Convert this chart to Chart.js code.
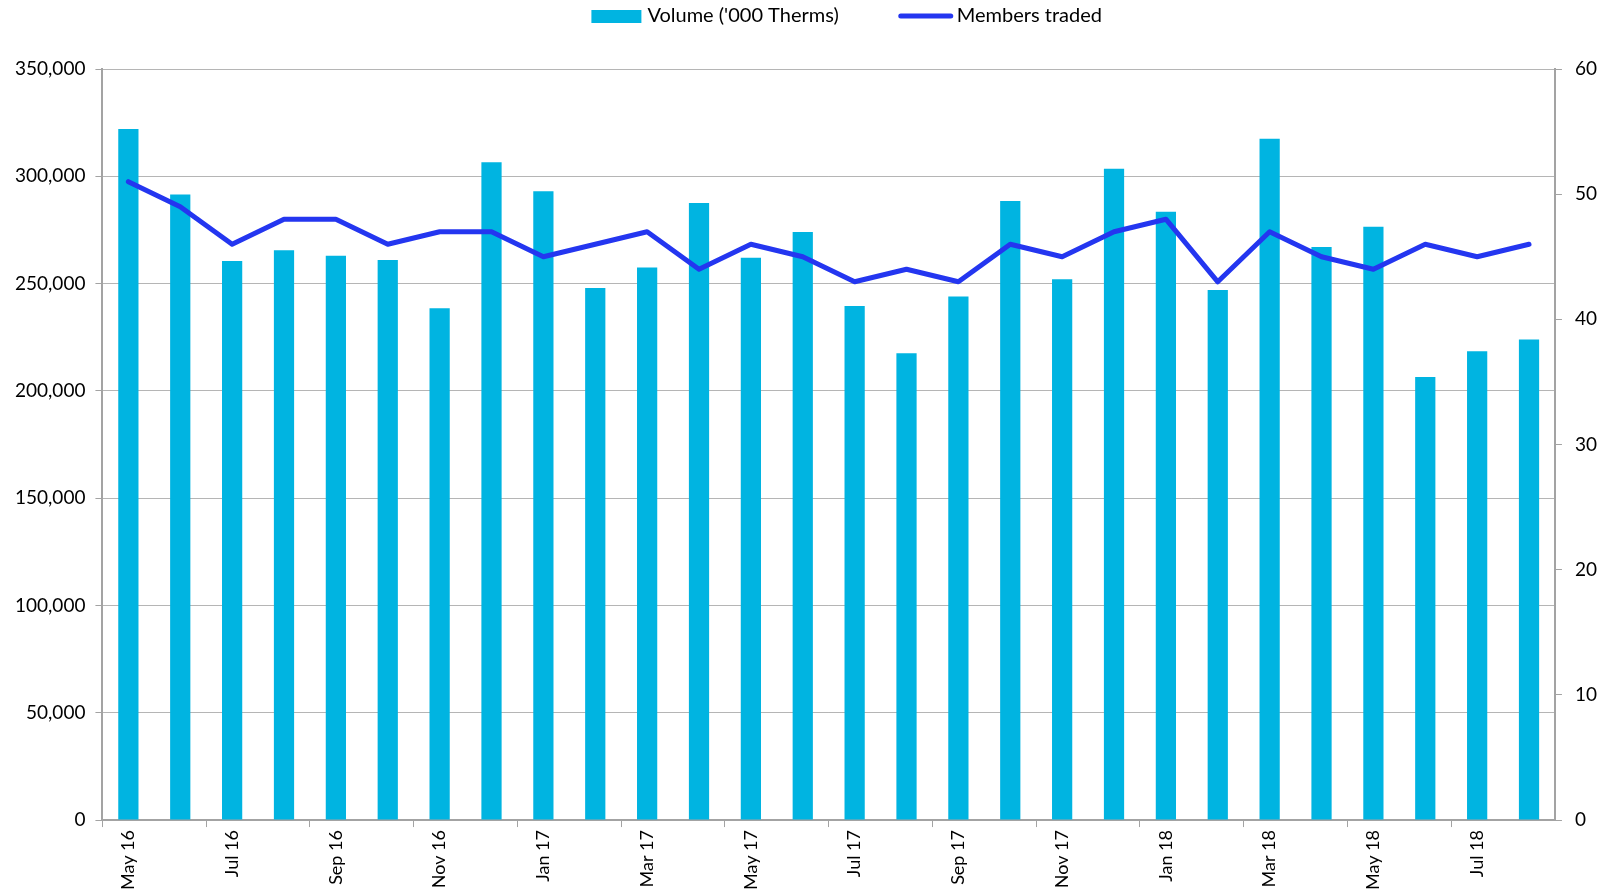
<!DOCTYPE html>
<html>
<head>
<meta charset="utf-8">
<script src="https://cdn.jsdelivr.net/npm/chart.js@4"></script>
<style>
  html, body { margin: 0; padding: 0; background: #fff; }
  #wrap { width: 1610px; height: 889px; }
</style>
</head>
<body>
<div id="wrap"><canvas id="chart"></canvas></div>
<script>
const months = ['May 16','Jun 16','Jul 16','Aug 16','Sep 16','Oct 16','Nov 16','Dec 16',
  'Jan 17','Feb 17','Mar 17','Apr 17','May 17','Jun 17','Jul 17','Aug 17','Sep 17','Oct 17','Nov 17','Dec 17',
  'Jan 18','Feb 18','Mar 18','Apr 18','May 18','Jun 18','Jul 18','Aug 18'];

// volume in '000 therms (left axis)
const volume = [322000, 291500, 260500, 265500, 263000, 261000, 238500, 306500,
  293000, 248000, 257500, 287500, 262000, 274000, 239500, 217500, 244000, 288500, 252000, 303500,
  283500, 247000, 317500, 267000, 276500, 206500, 218500, 224000];

// number of members trading (right axis)
const members = [51, 49, 46, 48, 48, 46, 47, 47,
  45, 46, 47, 44, 46, 45, 43, 44, 43, 46, 45, 47,
  48, 43, 47, 45, 44, 46, 45, 46];

const volumeTicks = [0, 50000, 100000, 150000, 200000, 250000, 300000, 350000];
const memberTicks = [0, 10, 20, 30, 40, 50, 60];

const barColor = '#00B4E1';
const lineColor = '#2436F0';
const gridColor = '#B5B5B5';
const axisColor = '#A3A3A3';
const fontFamily = 'Lato, "Open Sans", sans-serif';

// legend drawn by hand so the spacing matches the original
const topLegend = {
  id: 'topLegend',
  afterDraw(chart) {
    const ctx = chart.ctx;
    const area = chart.chartArea;
    ctx.save();
    ctx.font = '20px ' + fontFamily;
    ctx.textBaseline = 'middle';
    const t1 = "Volume ('000 Therms)";
    const t2 = 'Members traded';
    const w1 = ctx.measureText(t1).width;
    const w2 = ctx.measureText(t2).width;
    const total = 50 + 6 + w1 + 60 + 54 + 4 + w2;
    let x = (area.left + area.right) / 2 + 18 - total / 2;
    const y = 16;
    ctx.fillStyle = barColor;
    ctx.fillRect(x, y - 6, 50, 13);
    x += 56;
    ctx.fillStyle = '#000';
    ctx.fillText(t1, x, y);
    x += w1 + 60;
    ctx.strokeStyle = lineColor;
    ctx.lineWidth = 5;
    ctx.lineCap = 'round';
    ctx.beginPath();
    ctx.moveTo(x + 2, y);
    ctx.lineTo(x + 52, y);
    ctx.stroke();
    x += 58;
    ctx.fillStyle = '#000';
    ctx.fillText(t2, x, y);
    ctx.restore();
  }
};

Chart.defaults.font.family = fontFamily;
Chart.defaults.font.size = 19;
Chart.defaults.color = '#000';

new Chart(document.getElementById('chart'), {
  type: 'bar',
  data: {
    labels: months,
    datasets: [
      {
        type: 'line',
        label: 'Members traded',
        data: members,
        yAxisID: 'y1',
        borderColor: lineColor,
        backgroundColor: lineColor,
        borderWidth: 5,
        pointRadius: 0,
        tension: 0,
        borderJoinStyle: 'round',
        borderCapStyle: 'round',
        order: 0
      },
      {
        label: "Volume ('000 Therms)",
        data: volume,
        yAxisID: 'y',
        backgroundColor: barColor,
        barPercentage: 0.39,
        categoryPercentage: 1,
        order: 1
      }
    ]
  },
  options: {
    responsive: true,
    maintainAspectRatio: false,
    animation: false,
    layout: { padding: { top: 69, left: 5, right: 0, bottom: -4 } },
    plugins: {
      legend: { display: false },
      tooltip: { enabled: false }
    },
    scales: {
      x: {
        offset: true,
        grid: {
          offset: true,
          drawOnChartArea: false,
          tickLength: 7,
          tickColor: (c) => (c.index % 2 === 0 ? axisColor : 'rgba(0,0,0,0)')
        },
        border: { color: axisColor, width: 2 },
        ticks: {
          autoSkip: false,
          minRotation: 90,
          maxRotation: 90,
          padding: 3,
          font: { size: 18 },
          callback: function (v, i) { return i % 2 === 0 ? this.getLabelForValue(v) : ''; }
        }
      },
      y: {
        position: 'left',
        min: 0,
        max: 350000,
        afterBuildTicks: (s) => { s.ticks = volumeTicks.map(v => ({ value: v })); },
        grid: { color: gridColor, tickColor: axisColor, tickLength: 7 },
        border: { color: axisColor, width: 2 },
        ticks: {
          padding: 10,
          callback: (v) => v.toLocaleString('en-US')
        }
      },
      y1: {
        position: 'right',
        min: 0,
        max: 60,
        afterBuildTicks: (s) => { s.ticks = memberTicks.map(v => ({ value: v })); },
        grid: { drawOnChartArea: false, tickColor: axisColor, tickLength: 7 },
        border: { color: axisColor, width: 2 },
        ticks: { padding: 13 }
      }
    }
  },
  plugins: [topLegend]
});
</script>
</body>
</html>
